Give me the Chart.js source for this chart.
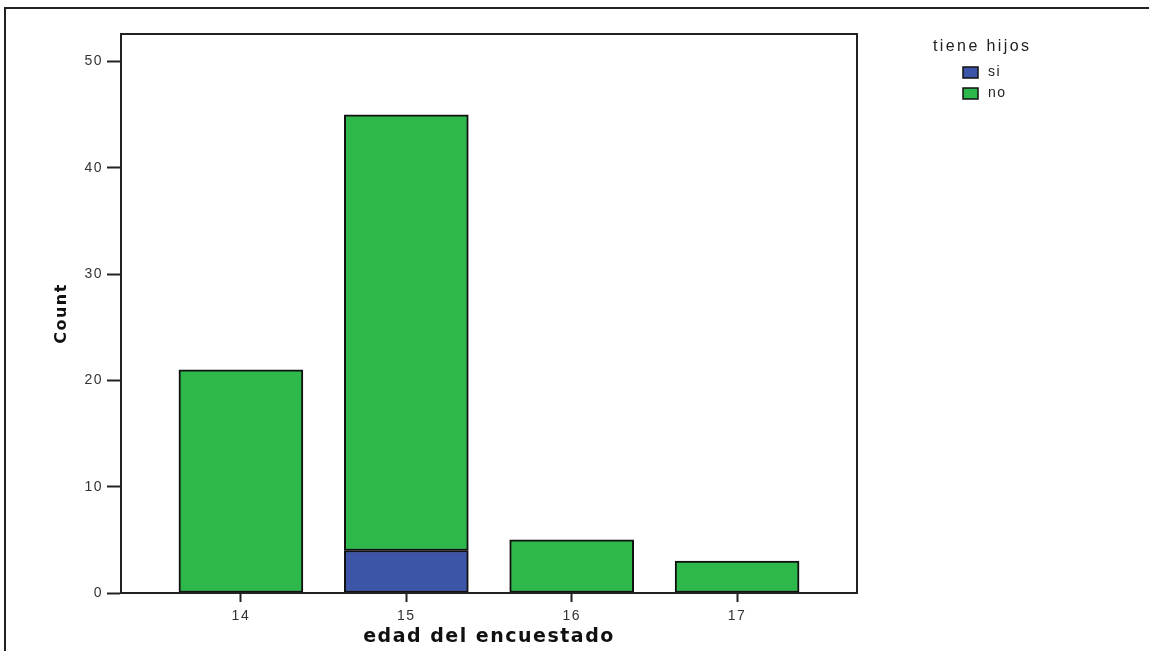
<!DOCTYPE html>
<html>
<head>
<meta charset="utf-8">
<script src="https://cdn.jsdelivr.net/npm/chart.js@4.4.1/dist/chart.umd.min.js"></script>
<style>
  html, body { margin: 0; padding: 0; background: #fff; }
  #wrap { width: 1149px; height: 651px; position: relative; }
</style>
</head>
<body>
<div id="wrap"><canvas id="chart" width="1149" height="651"></canvas></div>
<script>
const ages = [14, 15, 16, 17];
const siCounts = [0, 4, 0, 0];
const noCounts = [21, 41, 5, 3];
const yTicks = [0, 10, 20, 30, 40, 50];
const legendTitle = 'tiene hijos';

const blue = '#3c55a9';
const green = '#2eb84b';
const font = '"Liberation Sans", Arial, sans-serif';
const wideFont = '"DejaVu Sans", Verdana, sans-serif';

// plot frame, outer border and the legend on the right
const decor = {
  id: 'decor',
  beforeDraw(chart) {
    // the original renders its text a little spread out
    chart.ctx.letterSpacing = '1.5px';
  },
  afterDraw(chart) {
    const ctx = chart.ctx;
    const a = chart.chartArea;
    ctx.save();
    ctx.strokeStyle = '#222';
    ctx.lineWidth = 2;
    ctx.strokeRect(a.left, a.top, a.right - a.left, a.bottom - a.top);

    ctx.beginPath();
    ctx.moveTo(5, 651);
    ctx.lineTo(5, 8);
    ctx.lineTo(1149, 8);
    ctx.stroke();

    ctx.letterSpacing = '2.4px';
    ctx.fillStyle = '#222';
    ctx.font = '16px ' + font;
    ctx.textAlign = 'left';
    ctx.textBaseline = 'middle';
    ctx.fillText(legendTitle, 933, 47);

    ctx.letterSpacing = '1.5px';
    ctx.font = '14px ' + font;
    chart.data.datasets.forEach((ds, i) => {
      const y = 72 + i * 21;
      ctx.fillStyle = ds.backgroundColor;
      ctx.fillRect(963, y - 5, 15, 11);
      ctx.lineWidth = 1.5;
      ctx.strokeStyle = '#111';
      ctx.strokeRect(963, y - 5, 15, 11);
      ctx.fillStyle = '#222';
      ctx.fillText(ds.label, 988, y);
    });
    ctx.restore();
  }
};

new Chart(document.getElementById('chart').getContext('2d'), {
  type: 'bar',
  data: {
    datasets: [{
      label: 'si',
      data: ages.map((a, i) => ({ x: a, y: siCounts[i] })),
      backgroundColor: blue,
      borderColor: '#111',
      borderWidth: 2,
      borderSkipped: false,
      barThickness: 124
    }, {
      label: 'no',
      data: ages.map((a, i) => ({ x: a, y: noCounts[i] })),
      backgroundColor: green,
      borderColor: '#111',
      borderWidth: 2,
      borderSkipped: false,
      barThickness: 124
    }]
  },
  options: {
    responsive: false,
    animation: false,
    layout: { padding: { left: 0, top: 34, right: 292, bottom: 0 } },
    plugins: {
      legend: { display: false },
      tooltip: { enabled: false }
    },
    scales: {
      x: {
        type: 'linear',
        stacked: true,
        offset: false,
        min: 13.275,
        max: 17.725,
        afterBuildTicks: s => { s.ticks = ages.map(v => ({ value: v })); },
        afterFit: s => { s.height = 58; },
        grid: {
          offset: false,
          drawOnChartArea: false,
          tickLength: 9,
          tickColor: '#222',
          tickWidth: 2
        },
        border: { color: '#222', width: 2 },
        ticks: {
          color: '#333',
          padding: 6,
          font: { family: font, size: 14 }
        },
        title: {
          display: true,
          text: 'edad del encuestado',
          color: '#111',
          padding: { bottom: 3, top: 0 },
          font: { family: wideFont, size: 19, weight: 'bold' }
        }
      },
      y: {
        stacked: true,
        min: 0,
        max: 52.6,
        afterBuildTicks: s => { s.ticks = yTicks.map(v => ({ value: v })); },
        afterFit: s => { s.width = 121; },
        grid: {
          drawOnChartArea: false,
          tickLength: 14,
          tickColor: '#222',
          tickWidth: 2
        },
        border: { color: '#222', width: 2 },
        ticks: {
          color: '#333',
          padding: 4,
          font: { family: font, size: 14 }
        },
        title: {
          display: true,
          text: 'Count',
          color: '#111',
          padding: { top: 52, bottom: 0 },
          font: { family: wideFont, size: 16, weight: 'bold' }
        }
      }
    }
  },
  plugins: [decor]
});
</script>
</body>
</html>
